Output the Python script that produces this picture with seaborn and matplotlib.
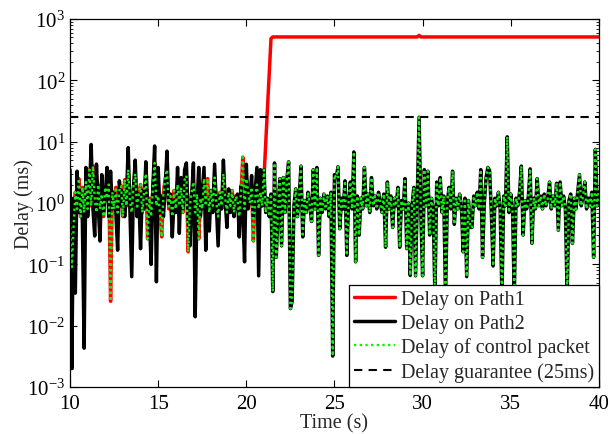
import numpy as np
import pandas as pd
import seaborn as sns
import matplotlib
matplotlib.use('Agg')
import matplotlib.pyplot as plt

# time axis: 10 s to 40 s, one sample every 0.1 s
time_s = np.round(np.linspace(10, 40, 301), 1)

# delay on path 2 (ms)
path2_ms = [
    3.5, 0.002, 1.2, 0.034, 3.3, 0.7, 1.6, 0.5, 0.0043, 3.8,
    0.6, 1.5, 9.0, 0.8, 0.29, 4.3, 0.9, 0.24, 2.9, 0.7,
    1.4, 3.8, 0.6, 3.3, 0.8, 1.5, 0.7, 0.17, 2.3, 0.9,
    1.6, 0.6, 1.3, 8.0, 0.7, 0.063, 1.8, 5.0, 0.6, 1.4,
    0.18, 1.6, 0.8, 4.7, 1.0, 0.6, 0.1, 1.9, 8.5, 0.052,
    3.8, 0.7, 1.3, 0.6, 1.8, 7.0, 0.9, 1.4, 0.28, 1.1,
    0.7, 3.8, 0.32, 2.6, 0.8, 3.5, 4.5, 0.6, 0.2, 1.3,
    4.5, 0.014, 0.9, 3.8, 0.6, 1.5, 3.8, 0.17, 1.2, 0.35,
    1.6, 0.7, 4.3, 0.9, 0.2, 1.4, 0.8, 5.0, 1.1, 0.4,
    1.7, 0.7, 1.3, 0.6, 1.2, 1.4, 0.28, 1.9, 0.7, 0.11,
    4.3, 0.8, 1.2, 2.8, 0.6, 1.5, 3.8, 0.065, 3.5, 0.9,
    3.5, 0.7, 1.2, 0.6, 1.4, 0.036, 4.5, 0.13, 0.8, 2.5,
    0.2, 2.6, 0.7, 2.5, 4.7, 0.019, 0.025, 0.9, 1.7, 0.6,
    1.3, 4.0, 0.28, 1.1, 0.7, 1.5, 0.9, 0.5, 3.5, 0.8,
    3.8, 0.14, 1.2, 0.7, 1.4, 0.8, 1.3, 0.6, 1.5, 0.0032,
    2.9, 2.6, 3.9, 0.38, 1.2, 0.8, 2.3, 0.14, 1.0, 2.2,
    0.8, 6.8, 0.11, 1.3, 0.3, 1.2, 0.8, 3.8, 0.9, 1.4,
    0.7, 2.6, 0.9, 1.3, 0.8, 1.5, 1.0, 0.7, 1.4, 0.19,
    2.2, 0.8, 1.3, 0.4, 1.2, 0.9, 1.8, 0.19, 1.1, 0.8,
    2.5, 0.18, 1.0, 0.066, 0.9, 1.8, 0.065, 1.2, 25.0, 0.7,
    0.065, 3.5, 0.9, 3.3, 0.3, 1.2, 0.8, 0.03, 2.2, 0.9,
    2.6, 0.7, 1.3, 0.03, 1.0, 1.8, 0.8, 3.3, 0.45, 1.2,
    0.8, 1.4, 0.9, 0.16, 1.2, 0.063, 1.1, 0.4, 0.4, 1.3,
    0.9, 1.5, 0.8, 3.5, 0.13, 1.0, 2.6, 3.8, 3.4, 0.7,
    0.094, 1.2, 0.9, 1.5, 0.8, 0.03, 1.3, 0.9, 12.0, 0.7,
    1.4, 0.8, 0.03, 1.2, 0.9, 1.5, 4.0, 0.3, 1.1, 0.8,
    1.3, 3.6, 0.22, 1.2, 0.8, 2.5, 0.9, 1.3, 0.8, 1.4,
    0.9, 1.2, 2.2, 0.8, 1.3, 0.9, 2.1, 0.36, 2.2, 0.9,
    1.3, 0.8, 0.03, 1.1, 1.4, 0.22, 1.2, 0.8, 1.5, 2.9,
    0.9, 1.3, 2.2, 0.8, 1.2, 0.9, 1.5, 0.13, 7.5, 0.9,
    1.5,
]

# delay on path 1 (ms): normal until ~21 s, then congested at ~510 ms
path1_before = [
    0.5, 0.09, 0.4, 1.5, 0.8, 2.5, 0.6, 1.8, 0.7, 2.2,
    0.8, 3.5, 0.9, 4.0, 1.2, 0.7, 2.0, 0.8, 1.4, 0.6,
    1.8, 1.2, 2.0, 0.025, 1.5, 0.8, 1.8, 0.7, 1.6, 1.9,
    0.6, 2.4, 0.9, 3.5, 1.1, 0.7, 1.9, 3.0, 0.8, 1.4,
    2.0, 0.7, 1.5, 3.0, 0.26, 1.2, 0.6, 1.7, 4.5, 0.9,
    1.3, 0.7, 0.28, 1.5, 2.5, 3.5, 0.8, 1.3, 0.6, 1.6,
    0.8, 2.0, 0.9, 1.8, 0.7, 2.4, 2.8, 0.16, 0.9, 1.5,
    2.2, 0.7, 1.4, 0.26, 1.2, 0.8, 2.5, 0.9, 2.5, 0.7,
    1.6, 0.9, 2.6, 1.0, 0.6, 1.5, 0.9, 3.0, 1.2, 0.7,
    1.5, 0.9, 1.6, 0.7, 1.3, 1.1, 0.6, 1.5, 5.6, 0.8,
    2.5, 1.6, 1.0, 1.8, 0.24, 1.2, 2.0, 0.8, 1.5, 0.9,
]
path1_rise = [2.5, 9.0, 35.0, 130.0, 480.0]
path1_plateau = [510.0] * 83 + [540.0] + [510.0] * 102
path1_ms = path1_before + path1_rise + path1_plateau

switch_index = len(path1_before)  # control packets move to path 2 here
guarantee_ms = 25

df = pd.DataFrame({'time': time_s, 'path1': path1_ms, 'path2': path2_ms})
df['control'] = np.where(df.index < switch_index, df['path1'], df['path2'])

sns.set_style('ticks')
plt.rcParams['font.family'] = ['Liberation Serif', 'DejaVu Serif']
plt.rcParams['mathtext.fontset'] = 'stix'
plt.rcParams['font.size'] = 14

fig = plt.figure(figsize=(6.1, 4.35), dpi=100)
ax = fig.add_axes([0.1148, 0.108, 0.867, 0.846])

sns.lineplot(data=df, x='time', y='path1', ax=ax, color='#ff0000', lw=2.5,
             estimator=None, label='Delay on Path1')
sns.lineplot(data=df, x='time', y='path2', ax=ax, color='black', lw=2.5,
             estimator=None, label='Delay on Path2')
sns.lineplot(data=df, x='time', y='control', ax=ax, color='#11ee11', lw=1.7,
             estimator=None, label='Delay of control packet',
             linestyle=(0, (1, 1.4)))
ax.axhline(guarantee_ms, color='black', lw=1.5, linestyle=(0, (4, 3)),
           label='Delay guarantee (25ms)')

ax.set_yscale('log')
ax.set_xlim(10, 40)
ax.set_ylim(1e-3, 1e3)
ax.set_xticks([10, 15, 20, 25, 30, 35, 40])
ax.set_yticks([1e-3, 1e-2, 1e-1, 1e0, 1e1, 1e2, 1e3])
ax.tick_params(which='both', direction='in', top=True, right=True,
               labelsize=15, colors='black')
ax.tick_params(which='major', length=5, width=0.8)
ax.tick_params(which='minor', length=2.5, width=0.6)
ax.tick_params(axis='x', which='minor', bottom=False, top=False)
ax.tick_params(axis='x', pad=5)
for s in ax.spines.values():
    s.set_color('black')
    s.set_linewidth(0.9)

ax.set_xlabel('Time (s)', fontsize=14.5, labelpad=0)
ax.set_ylabel('Delay (ms)', fontsize=14.5)
ax.yaxis.set_label_coords(-0.068, 0.5)

leg = ax.legend(loc='lower right', borderaxespad=0, fancybox=False,
                framealpha=1, edgecolor='black', fontsize=14.5,
                handlelength=2.0, labelspacing=0.24, borderpad=0.25,
                handletextpad=0.3)
leg.get_frame().set_linewidth(0.9)

fig.savefig('out.png', dpi=100)
